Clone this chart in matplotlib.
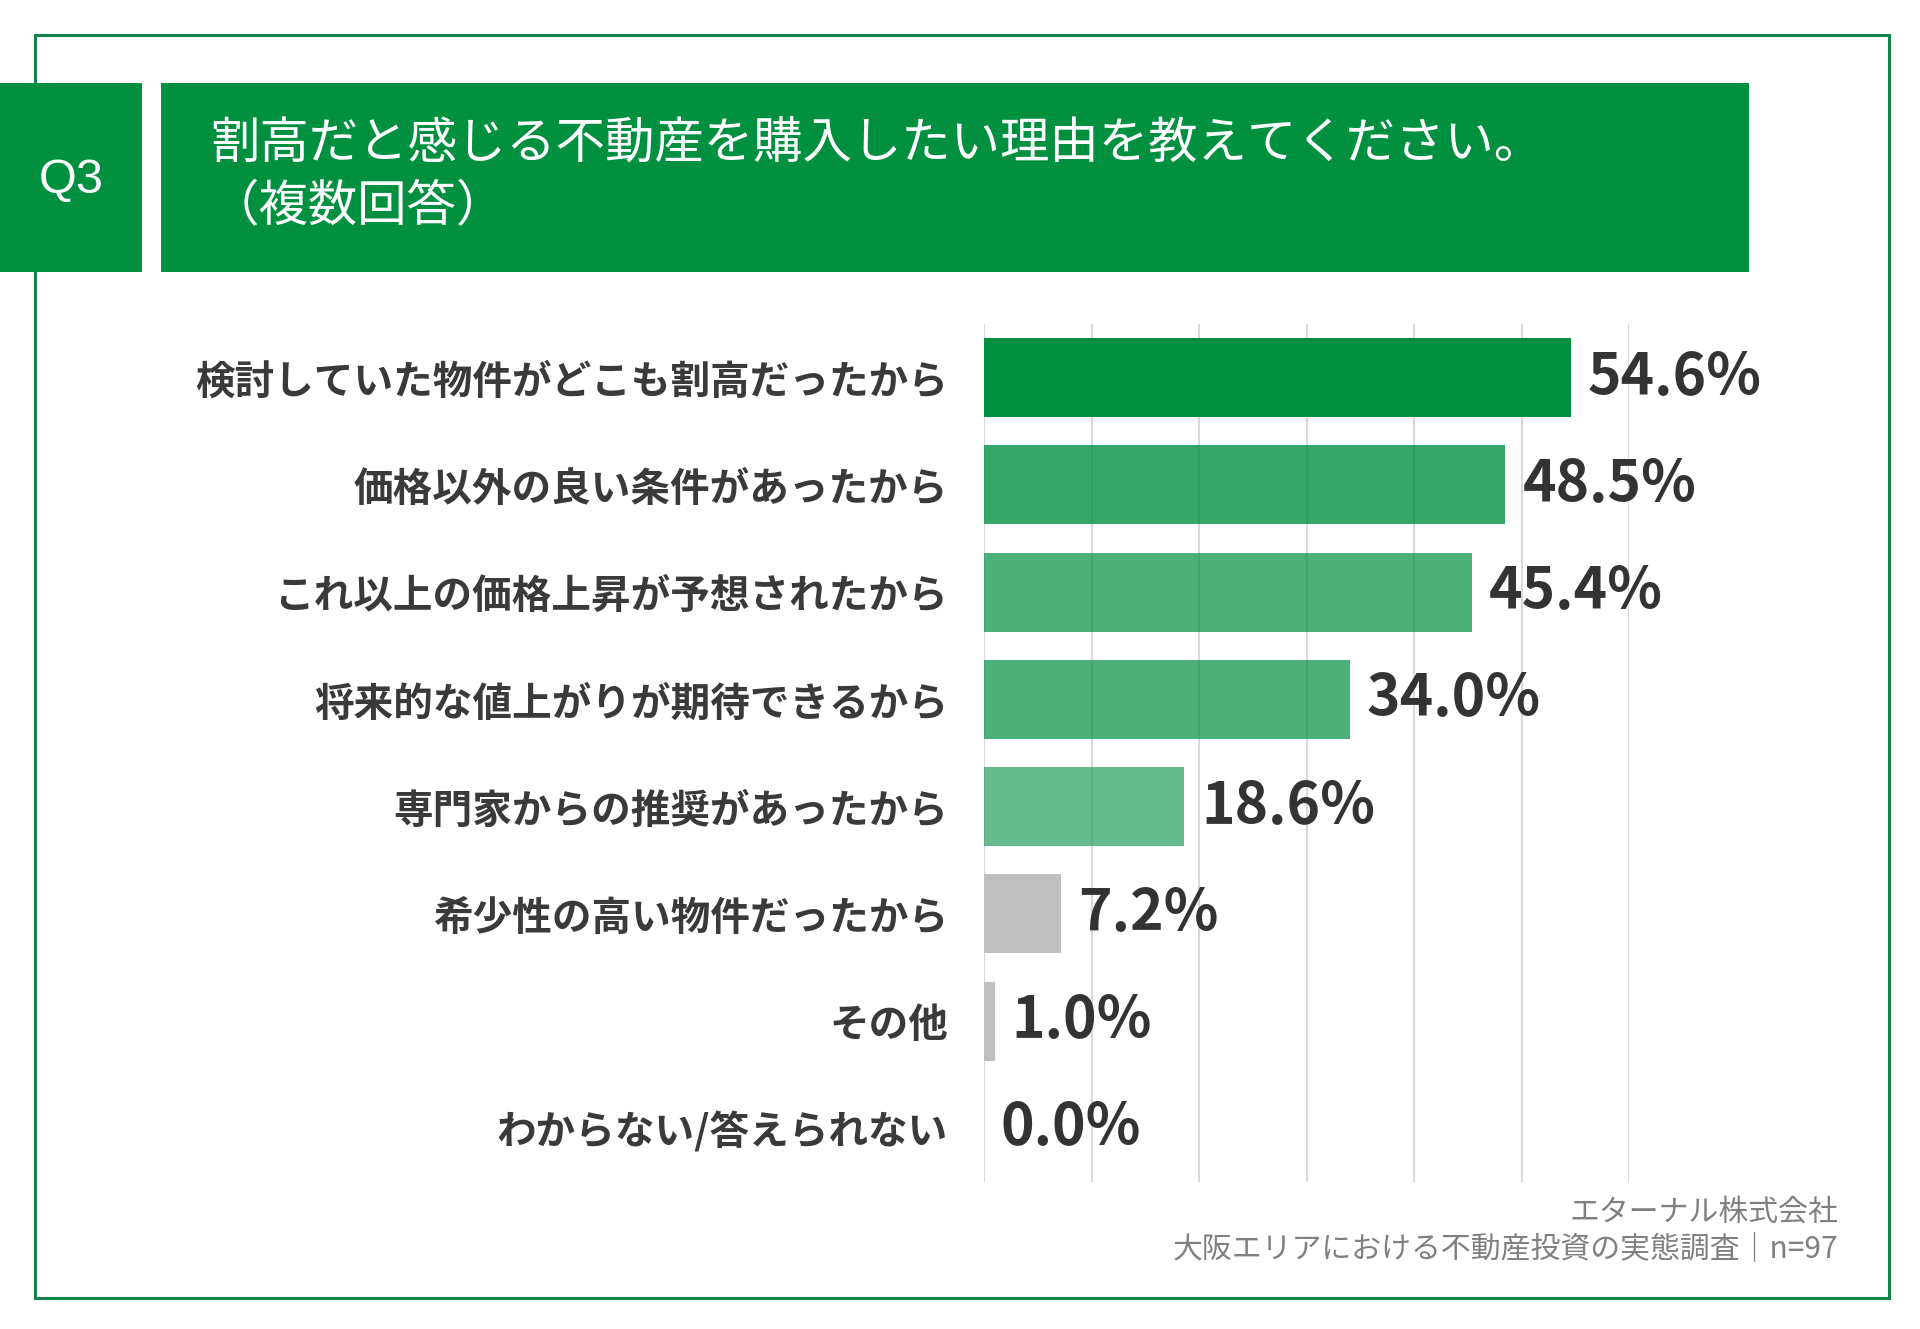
import numpy as np
import matplotlib
matplotlib.use("Agg")
import matplotlib.pyplot as plt
from matplotlib.patches import Rectangle

plt.rcParams['font.family'] = ['Noto Sans CJK JP', 'DejaVu Sans']

# data
categories = [
    '検討していた物件がどこも割高だったから',
    '価格以外の良い条件があったから',
    'これ以上の価格上昇が予想されたから',
    '将来的な値上がりが期待できるから',
    '専門家からの推奨があったから',
    '希少性の高い物件だったから',
    'その他',
    'わからない/答えられない',
]
values = [54.6, 48.5, 45.4, 34.0, 18.6, 7.2, 1.0, 0.0]
title_line1 = '割高だと感じる不動産を購入したい理由を教えてください。'
title_line2 = '（複数回答）'
question = 'Q3'
footer1 = 'エターナル株式会社'
footer2 = '大阪エリアにおける不動産投資の実態調査｜n=97'

# styles
GREEN = '#009040'
bar_colors = [GREEN, GREEN, GREEN, GREEN, GREEN, '#bfbfbf', '#bfbfbf', '#bfbfbf']
bar_alphas = [1.0, 0.79, 0.70, 0.70, 0.60, 1.0, 1.0, 1.0]

W, H = 1920, 1329
fig = plt.figure(figsize=(W / 100, H / 100), dpi=100)


def fx(px):
    return px / W


def fy(py):
    return 1 - py / H


# outer frame
fig.add_artist(Rectangle((fx(35), fy(1298)), fx(1889) - fx(35), fy(35) - fy(1298),
                         transform=fig.transFigure, fill=False,
                         edgecolor='#16834a', lw=2.2, zorder=0))

# header boxes
fig.add_artist(Rectangle((fx(0), fy(272)), fx(142), fy(83) - fy(272),
                         transform=fig.transFigure, color=GREEN, lw=0, zorder=1))
fig.add_artist(Rectangle((fx(161), fy(272)), fx(1749) - fx(161), fy(83) - fy(272),
                         transform=fig.transFigure, color=GREEN, lw=0, zorder=1))
fig.text(fx(71), fy(180), question, color='white', fontsize=35,
         family=['Liberation Sans', 'DejaVu Sans'], ha='center', va='center', zorder=2)
fig.text(fx(210), fy(145), title_line1, color='white', fontsize=35.6,
         ha='left', va='center', zorder=2)
fig.text(fx(210), fy(207), title_line2, color='white', fontsize=35.6,
         ha='left', va='center', zorder=2)

# chart
ax = fig.add_axes([fx(984), fy(1182), fx(1629) - fx(984), fy(324) - fy(1182)])
y = np.arange(len(categories))
bars = ax.barh(y, values, height=0.735, color=bar_colors, zorder=2)
for b, a in zip(bars, bar_alphas):
    b.set_alpha(a)

ax.set_xlim(0, 60)
ax.set_ylim(len(categories) - 0.5, -0.5)
ax.set_xticks(range(0, 61, 10))
ax.set_xticklabels([])
ax.grid(axis='x', color='#d9d9d9', lw=1.5, zorder=0)
ax.set_axisbelow(True)
ax.tick_params(axis='x', length=0)
ax.tick_params(axis='y', length=0, pad=26)
ax.set_yticks(y)
ax.set_yticklabels(categories, fontsize=28.5, color='#3a3a3a', fontweight='bold')
for s in ax.spines.values():
    s.set_visible(False)

for yi, v in zip(y, values):
    ax.annotate(f'{v:.1f}%', xy=(v, yi), xytext=(17, 0), textcoords='offset pixels',
                ha='left', va='center', fontsize=41, color='#333333',
                fontweight='bold', annotation_clip=False)

# footer
fig.text(fx(1838), fy(1212), footer1, color='#808080', fontsize=21.5,
         ha='right', va='center')
fig.text(fx(1838), fy(1249), footer2, color='#808080', fontsize=21.5,
         ha='right', va='center')

fig.savefig('out.png', dpi=100, facecolor='white')
